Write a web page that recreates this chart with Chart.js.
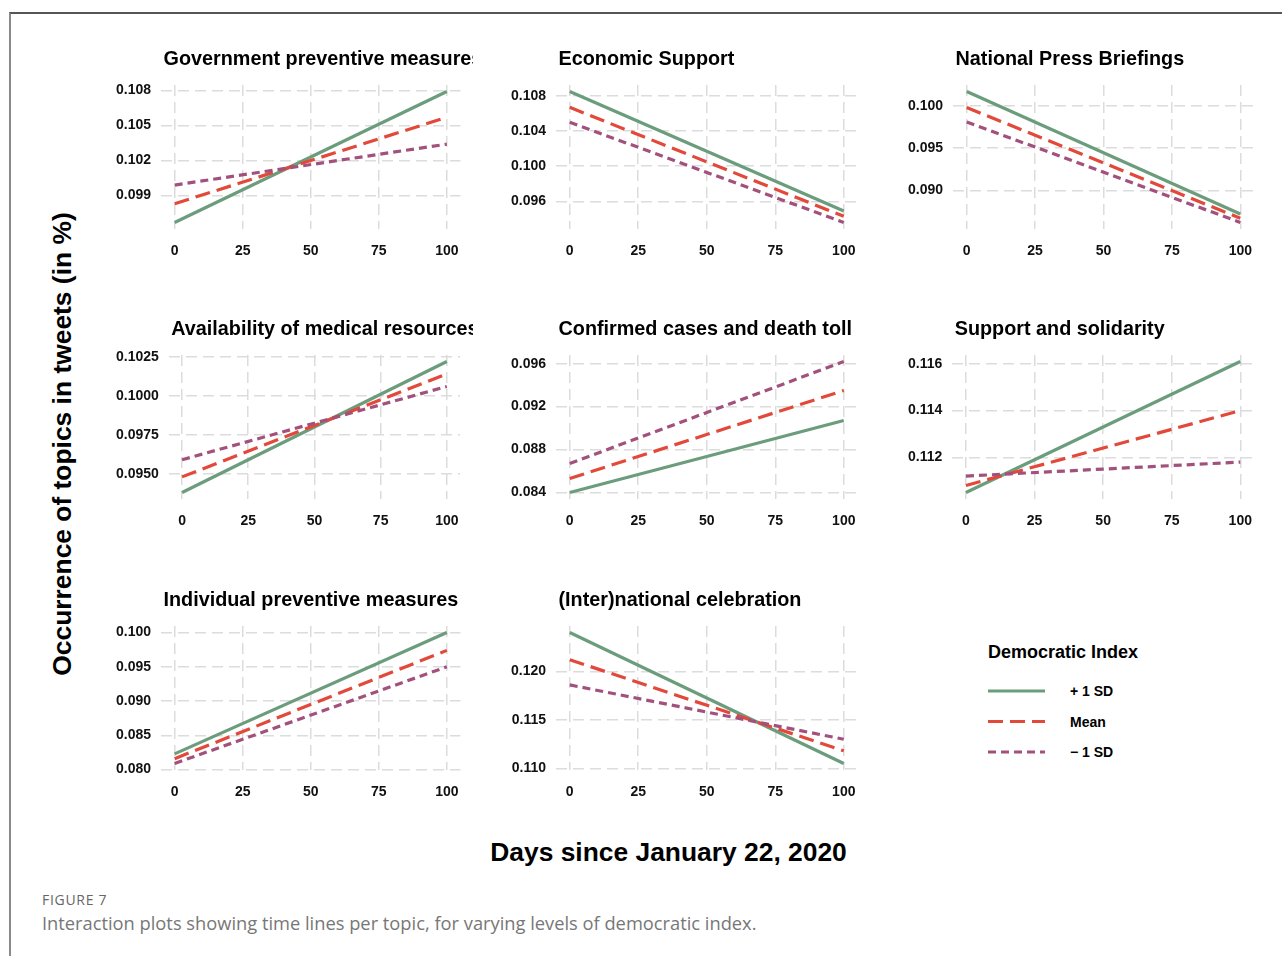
<!DOCTYPE html>
<html>
<head>
<meta charset="utf-8">
<script src="https://cdn.jsdelivr.net/npm/chart.js@4.4.1/dist/chart.umd.min.js"></script>
<style>
  html, body { margin: 0; padding: 0; background: #fff; }
  body { width: 1282px; height: 956px; position: relative; overflow: hidden;
         font-family: "Liberation Sans", Arial, sans-serif; }
  .frame { position: absolute; left: 9px; top: 12px; width: 1290px; height: 960px;
           border-top: 2px solid #555; border-left: 2px solid #8a8a8a; }
  canvas.panel { position: absolute; }
  .ytitle { position: absolute; left: 62px; top: 444px; transform: translate(-50%, -50%) rotate(-90deg);
            font-weight: bold; font-size: 26.4px; white-space: nowrap; color: #000; }
  .xtitle { position: absolute; left: 668.5px; top: 852px; transform: translate(-50%, -50%);
            font-weight: bold; font-size: 26.4px; white-space: nowrap; color: #000; }
  .fig { position: absolute; left: 42px; top: 890px; font-family: "Open Sans", sans-serif;
         font-size: 14px; letter-spacing: 0.7px; color: #666; }
  .caption { position: absolute; left: 42px; top: 910px; font-family: "Open Sans", sans-serif;
             font-size: 18.3px; color: #777; white-space: nowrap; }
  svg.legend { position: absolute; left: 960px; top: 636px; }
</style>
</head>
<body>
<div class="frame"></div>
<div class="ytitle">Occurrence of topics in tweets (in %)</div>
<div class="xtitle">Days since January 22, 2020</div>
<div class="fig">FIGURE 7</div>
<div class="caption">Interaction plots showing time lines per topic, for varying levels of democratic index.</div>

<svg class="legend" width="220" height="140" xmlns="http://www.w3.org/2000/svg">
  <text x="28" y="22" font-family="Liberation Sans, Arial, sans-serif" font-weight="bold" font-size="18" fill="#000">Democratic Index</text>
  <g id="legendKeys"></g>
</svg>

<script>
// Topic panels, in reading order
const topics = [
  "Government preventive measures",
  "Economic Support",
  "National Press Briefings",
  "Availability of medical resources",
  "Confirmed cases and death toll",
  "Support and solidarity",
  "Individual preventive measures",
  "(Inter)national celebration"
];

// Days since January 22, 2020 at which each fitted line is evaluated
const days = [0, 100];
const dayTicks = [0, 25, 50, 75, 100];

// Predicted share of tweets per topic: [value at day 0, value at day 100]
const plusOneSD = [
  [0.0967, 0.1079], [0.1085, 0.0949], [0.1017, 0.0872], [0.0938, 0.1022],
  [0.0840, 0.0907], [0.1105, 0.1161], [0.0823, 0.1000], [0.1240, 0.1105]
];
const meanLevel = [
  [0.0983, 0.1057], [0.1067, 0.0943], [0.0998, 0.0867], [0.0948, 0.1014],
  [0.0853, 0.0935], [0.1108, 0.1140], [0.0816, 0.0974], [0.1212, 0.1118]
];
const minusOneSD = [
  [0.0999, 0.1034], [0.1050, 0.0936], [0.0981, 0.0862], [0.0959, 0.1006],
  [0.0867, 0.0962], [0.1112, 0.1118], [0.0809, 0.0950], [0.1186, 0.1130]
];

// Y tick labels per panel
const valueTicks = [
  [0.099, 0.102, 0.105, 0.108],
  [0.096, 0.100, 0.104, 0.108],
  [0.090, 0.095, 0.100],
  [0.0950, 0.0975, 0.1000, 0.1025],
  [0.084, 0.088, 0.092, 0.096],
  [0.112, 0.114, 0.116],
  [0.080, 0.085, 0.090, 0.095, 0.100],
  [0.110, 0.115, 0.120]
];
const tickDecimals = [3, 3, 3, 4, 3, 3, 3, 3];

const seriesNames = ["+ 1 SD", "Mean", "\u2212 1 SD"];

// Styling
const FONT = '"Liberation Sans", Arial, sans-serif';
const seriesStyle = [
  { color: "#6b9d7d", dash: [],      order: 3 },
  { color: "#e2493a", dash: [15, 7], order: 2 },
  { color: "#a2507c", dash: [8, 5],  order: 1 }
];
const LINE_W = 3.2;

// Panel grid geometry
const cols = [
  { left: 100, width: 373, padL: 6, padR: 11 },
  { left: 495, width: 375, padL: 6, padR: 12 },
  { left: 890, width: 380, padL: 8, padR: 16 }
];
const rowTops = [40, 310, 581];
const PAD_TOP = 45, PANEL_H = 144, XAXIS_H = 35;

// Draws the panel heading left-aligned with the plotting area
const panelTitle = {
  id: "panelTitle",
  afterDraw(chart, args, opts) {
    const { ctx, chartArea } = chart;
    ctx.save();
    ctx.font = "bold 19.8px " + FONT;
    ctx.fillStyle = "#000";
    ctx.textBaseline = "middle";
    ctx.textAlign = "left";
    ctx.fillText(opts.text, chartArea.left + 2.5, chartArea.top - 25);
    ctx.restore();
  }
};

function paddedRange(i) {
  const vals = [...plusOneSD[i], ...meanLevel[i], ...minusOneSD[i]];
  const lo = Math.min(...vals), hi = Math.max(...vals);
  const pad = (hi - lo) * 0.05;
  return [lo - pad, hi + pad];
}

function toPoints(pair) {
  return days.map((d, k) => ({ x: d, y: pair[k] }));
}

const seriesData = [plusOneSD, meanLevel, minusOneSD];

topics.forEach((title, i) => {
  const col = cols[i % 3];
  const top = rowTops[Math.floor(i / 3)];
  const canvas = document.createElement("canvas");
  canvas.className = "panel";
  canvas.width = col.width;
  canvas.height = PAD_TOP + PANEL_H + XAXIS_H;
  canvas.style.left = col.left + "px";
  canvas.style.top = top + "px";
  canvas.style.width = col.width + "px";
  canvas.style.height = canvas.height + "px";
  document.body.appendChild(canvas);

  const [yMin, yMax] = paddedRange(i);
  const gridCommon = { color: "#dcdcdc", lineWidth: 1.5, drawTicks: false };
  const borderCommon = { display: false, dash: [11, 6] };

  new Chart(canvas, {
    type: "line",
    data: {
      datasets: seriesData.map((s, k) => ({
        label: seriesNames[k],
        data: toPoints(s[i]),
        borderColor: seriesStyle[k].color,
        borderDash: seriesStyle[k].dash,
        borderWidth: LINE_W,
        borderCapStyle: "butt",
        pointRadius: 0,
        fill: false,
        tension: 0,
        order: seriesStyle[k].order
      }))
    },
    options: {
      responsive: false,
      animation: false,
      devicePixelRatio: 1,
      layout: { padding: { left: col.padL, right: col.padR, top: PAD_TOP, bottom: 0 } },
      plugins: {
        legend: { display: false },
        tooltip: { enabled: false },
        panelTitle: { text: title }
      },
      scales: {
        x: {
          type: "linear",
          min: -5,
          max: 105,
          grid: gridCommon,
          border: borderCommon,
          ticks: {
            padding: 14,
            color: "#111",
            font: { family: FONT, size: 14, weight: "bold" },
            callback: v => String(v)
          },
          afterBuildTicks: sc => { sc.ticks = dayTicks.map(v => ({ value: v })); },
          afterFit: sc => { sc.height = XAXIS_H; }
        },
        y: {
          type: "linear",
          min: yMin,
          max: yMax,
          grid: gridCommon,
          border: borderCommon,
          ticks: {
            padding: 10,
            color: "#111",
            font: { family: FONT, size: 14, weight: "bold" },
            callback: v => Number(v).toFixed(tickDecimals[i])
          },
          afterBuildTicks: sc => { sc.ticks = valueTicks[i].map(v => ({ value: v })); }
        }
      }
    },
    plugins: [panelTitle]
  });
});

// Legend keys for the democratic index levels
const keys = document.getElementById("legendKeys");
const NS = "http://www.w3.org/2000/svg";
seriesNames.forEach((name, k) => {
  const y = 55 + k * 30.5;
  const line = document.createElementNS(NS, "line");
  line.setAttribute("x1", 28);
  line.setAttribute("x2", 85);
  line.setAttribute("y1", y);
  line.setAttribute("y2", y);
  line.setAttribute("stroke", seriesStyle[k].color);
  line.setAttribute("stroke-width", LINE_W);
  if (seriesStyle[k].dash.length) line.setAttribute("stroke-dasharray", seriesStyle[k].dash.join(" "));
  keys.appendChild(line);
  const t = document.createElementNS(NS, "text");
  t.setAttribute("x", 110);
  t.setAttribute("y", y + 5);
  t.setAttribute("font-family", "Liberation Sans, Arial, sans-serif");
  t.setAttribute("font-weight", "bold");
  t.setAttribute("font-size", "14");
  t.setAttribute("fill", "#000");
  t.textContent = name;
  keys.appendChild(t);
});
</script>
</body>
</html>
